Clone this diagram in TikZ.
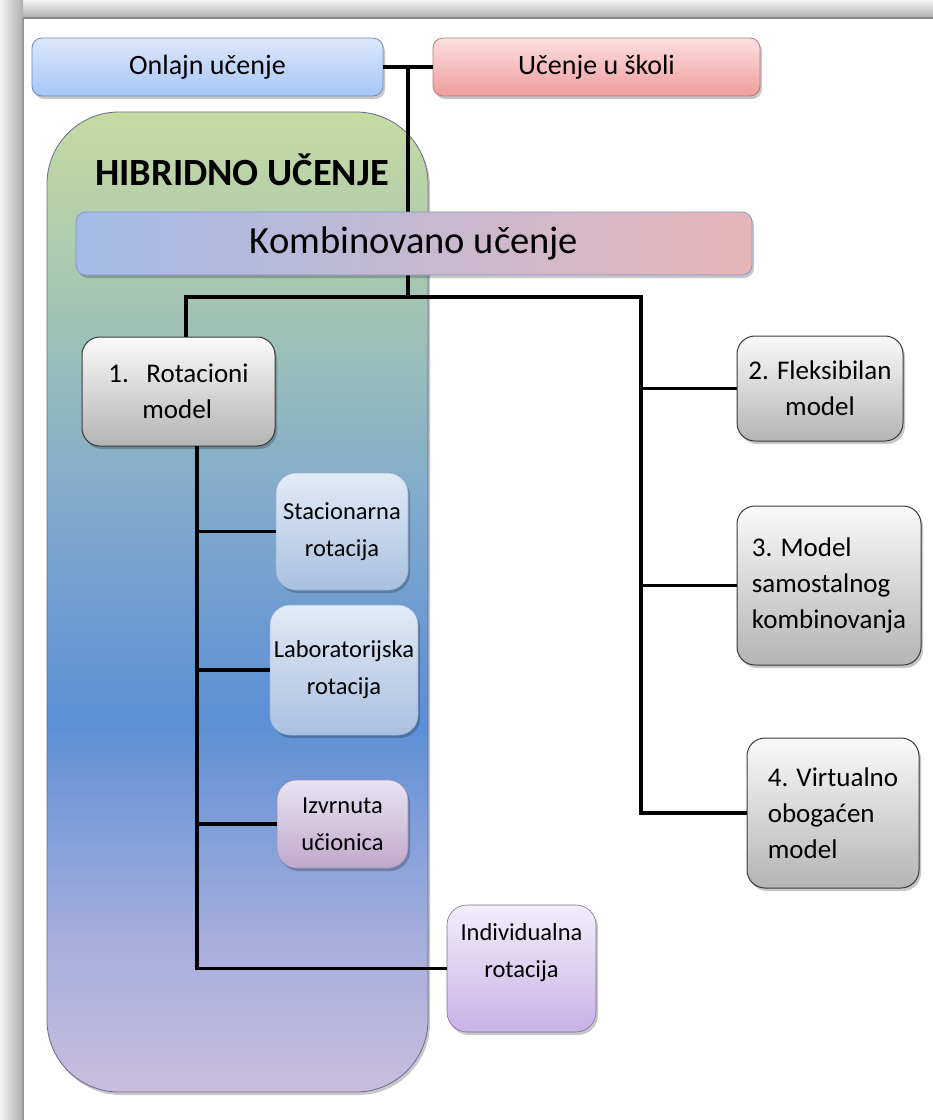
\documentclass[tikz,border=0pt]{standalone}
\usepackage{fontspec}
\setmainfont{Carlito}
\usetikzlibrary{shadows}
\definecolor{hA}{HTML}{C9BDDD}
\definecolor{hB}{HTML}{A4ADDC}
\definecolor{hC}{HTML}{5C8FD6}
\definecolor{hD}{HTML}{80AACC}
\definecolor{hE}{HTML}{A2C4B4}
\definecolor{hF}{HTML}{C6DBA2}
\pgfdeclareverticalshading{hybsh}{100bp}{color(0bp)=(hA); color(25bp)=(hA); color(33bp)=(hB); color(44bp)=(hC); color(55bp)=(hD); color(65bp)=(hE); color(75bp)=(hF); color(100bp)=(hF)}
\definecolor{onT}{HTML}{DDE8FC}
\definecolor{onB}{HTML}{A6C6F6}
\definecolor{onD}{HTML}{6E8EC0}
\definecolor{usT}{HTML}{FCE0E0}
\definecolor{usB}{HTML}{F09C9C}
\definecolor{usD}{HTML}{C07878}
\definecolor{kL}{HTML}{A2BCE8}
\definecolor{kM}{HTML}{C4C8EC}
\definecolor{kR}{HTML}{E8B6BA}
\definecolor{kD}{HTML}{8898C8}
\definecolor{gT}{HTML}{FAFAFA}
\definecolor{gB}{HTML}{B4B4B4}
\definecolor{gD}{HTML}{3A3A3A}
\definecolor{sT}{HTML}{E2EBF7}
\definecolor{sB}{HTML}{A8C0E0}
\definecolor{sD}{HTML}{9CB2D0}
\definecolor{iT}{HTML}{E8E4F2}
\definecolor{iB}{HTML}{C0A8CC}
\definecolor{iD}{HTML}{A090B4}
\definecolor{nT}{HTML}{F2EEFA}
\definecolor{nB}{HTML}{C8B2E6}
\definecolor{nD}{HTML}{806E96}
\definecolor{bigD}{HTML}{6A6A8A}
\tikzset{
  shd/.style={drop shadow={shadow xshift=2pt, shadow yshift=-3pt, fill=black, opacity=0.22}},
  conn/.style={line width=3.6pt, black, line join=miter},
  topbox/.style={shd, draw, line width=0.8pt, rounded corners=10pt, inner sep=0pt, align=center, font=\fontsize{28}{34}\selectfont},
  graybox/.style={shd, draw=gD, line width=1pt, rounded corners=18pt, top color=gT, bottom color=gB, inner sep=0pt, font=\fontsize{27}{36}\selectfont},
  subbox/.style={shd, draw, line width=0.6pt, rounded corners=20pt, inner sep=0pt, align=center, font=\fontsize{24.5}{37}\selectfont}
}
\begin{document}
\begin{tikzpicture}[x=1pt,y=-1pt]
\useasboundingbox (0,0) rectangle (933,1120);
% frame
\fill[white] (0,0) rectangle (933,1120);
\shade[top color=black!5, bottom color=black!30] (0,0) rectangle (933,17);
\shade[left color=black!4, right color=black!32] (0,0) rectangle (23,1120);
\draw[black!48, line width=1.5pt] (23,18) -- (933,18);
\draw[black!40, line width=1.5pt] (23,18) -- (23,1120);
% hybrid container
\path[shd, draw=bigD, line width=0.8pt, rounded corners=72pt, shading=hybsh] (47,112) rectangle (428,1092);
\node[font=\fontsize{38.5}{44}\selectfont\bfseries] (title) at (242,170) {HIBRIDNO UČENJE};
% top boxes
\node[topbox, draw=onD, top color=onT, bottom color=onB, minimum width=351pt, minimum height=58pt] (on) at (207.5,67) {Onlajn učenje};
\node[topbox, draw=usD, top color=usT, bottom color=usB, minimum width=327pt, minimum height=58pt] (us) at (596.5,67) {Učenje u školi};
% connector coordinates
\coordinate (jt) at (408,67);
\coordinate (jm) at (408,297);
\coordinate (jl) at (186,297);
\coordinate (jr) at (641,297);
\coordinate (rt) at (197,446);
\draw[conn] (on.east) -- (us.west);
\draw[conn] (jt) -- (jm);
% kombinovano
\node[topbox, draw=kD, left color=kL, middle color=kM, right color=kR, minimum width=676pt, minimum height=63pt, font=\fontsize{38.5}{44}\selectfont] (komb) at (414,243.5) {Kombinovano učenje};
% model boxes
\node[graybox, align=left, minimum width=193pt, minimum height=109pt] (rot) at (178.5,391.5) {1.\hspace{0.65em}Rotacioni\\\hphantom{1.\hspace{0.5em}}model};
\node[graybox, align=center, minimum width=166pt, minimum height=105pt] (flex) at (820,388.5) {2. Fleksibilan\\model};
\node[graybox, align=left, minimum width=184pt, minimum height=159pt] (msk) at (829,585.5) {3. Model\\samostalnog\\kombinovanja};
\node[graybox, align=left, minimum width=172pt, minimum height=150pt] (vir) at (833,813) {4. Virtualno\\obogaćen\\model};
% sub boxes
\node[subbox, draw=sD, top color=sT, bottom color=sB, minimum width=132pt, minimum height=117pt] (sta) at (342,531.5) {Stacionarna\\rotacija};
\node[subbox, draw=sD, top color=sT, bottom color=sB, minimum width=148pt, minimum height=130pt] (lab) at (344,670) {Laboratorijska\\rotacija};
\node[subbox, draw=iD, top color=iT, bottom color=iB, minimum width=131pt, minimum height=88pt] (izv) at (342.5,824) {Izvrnuta\\učionica};
\node[subbox, draw=nD, top color=nT, bottom color=nB, minimum width=149pt, minimum height=127pt] (ind) at (521.5,968.5) {Individualna\\rotacija\\\mbox{}};
% connectors
\draw[conn] (rot.north -| jl) -- (jl) -- (jr) |- (vir.west);
\draw[conn] (jr |- flex.west) -- (flex.west);
\draw[conn] (jr |- msk.west) -- (msk.west);
\draw[conn] (rt) |- (ind.west);
\draw[conn] (rt |- sta.west) -- (sta.west);
\draw[conn] (rt |- lab.west) -- (lab.west);
\draw[conn] (rt |- izv.west) -- (izv.west);
\end{tikzpicture}
\end{document}
